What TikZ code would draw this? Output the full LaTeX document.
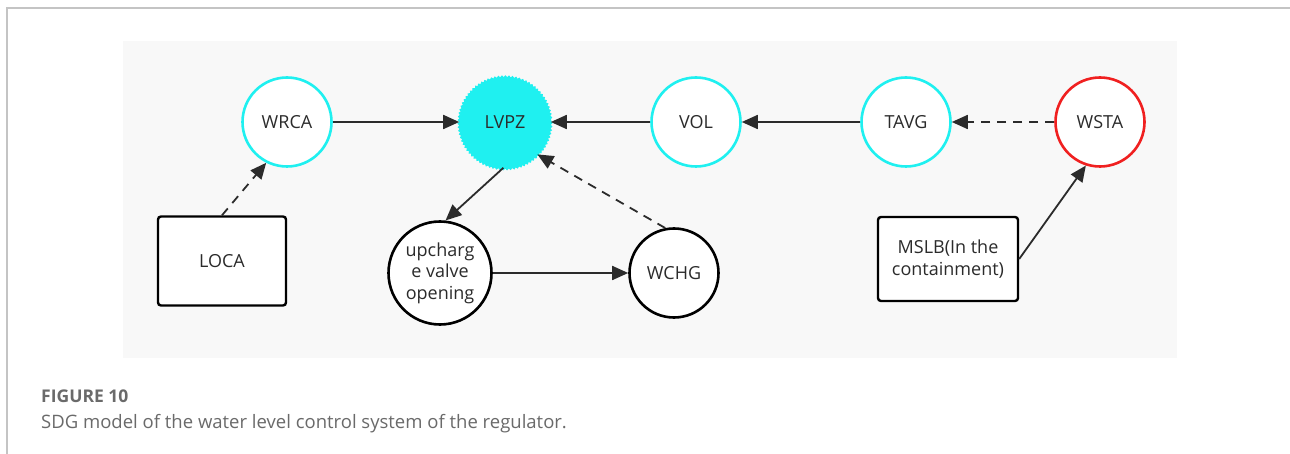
\documentclass[tikz,border=0pt]{standalone}
\usepackage{fontspec}
\setmainfont{Open Sans}
\usepackage{tikz}
\usetikzlibrary{shapes,arrows.meta,decorations.pathmorphing}
\usepackage{xcolor}
\definecolor{panelgray}{HTML}{F8F8F8}
\definecolor{framegray}{HTML}{C4C4C4}
\definecolor{inkgray}{HTML}{2B2B2B}
\definecolor{capgray}{HTML}{6A6A6A}
\definecolor{sigcyan}{HTML}{1FF0F0}
\definecolor{sigred}{HTML}{F02020}

\begin{document}
\begin{tikzpicture}[x=1pt,y=-1pt]
	\tikzstyle{var}=[draw=sigcyan,circle,line width=2.6pt,fill=white,text=inkgray,minimum size=89pt,inner sep=0pt,font=\fontsize{18}{21}\selectfont]
	\tikzstyle{event}=[draw=black,rectangle,rounded corners=3pt,line width=2.4pt,fill=white,text=inkgray,text centered,font=\fontsize{18}{22}\selectfont]
	\tikzstyle{edge}=[draw=inkgray,line width=1.8pt,-{Triangle[length=16pt,width=14pt]}]
	\tikzstyle{maybe}=[edge,dash pattern=on 9pt off 7pt]

	\useasboundingbox (0,0) rectangle (1290,454);
	\fill[white] (0,0) rectangle (1290,454);
	\draw[framegray,line width=1.5pt] (7,454) -- (7,8) -- (1290,8);
	\fill[panelgray] (123,41) rectangle (1177,358);

	% top row
	\node[var] (wrca) at (287,122) {WRCA};
	\draw[sigcyan,fill=sigcyan,line width=1pt,decorate,decoration={snake,segment length=3.5pt,amplitude=0.9pt}] (505,122) circle (46);
	\node[var,draw=none,fill=none] (lvpz) at (505,122) {LVPZ};
	\node[var] (vol) at (696,122) {VOL};
	\node[var] (tavg) at (906,122) {TAVG};
	\node[var,draw=sigred] (wsta) at (1100,122) {WSTA};

	% bottom row
	\node[event,minimum width=128pt,minimum height=89pt] (loca) at (222,261) {LOCA};
	\node[var,draw=black,minimum size=103pt,font=\fontsize{18}{21.5}\selectfont,align=center] (up) at (440,273) {upcharg\\e valve\\opening};
	\node[var,draw=black] (wchg) at (674,273) {WCHG};
	\node[event,minimum width=140pt,minimum height=84pt,align=center] (mslb) at (948,259) {MSLB(In the\\containment)};

	\draw[edge] (wrca) -- (lvpz);
	\draw[edge] (vol) -- (lvpz);
	\draw[edge] (tavg) -- (vol);
	\draw[maybe] (wsta) -- (tavg);
	\draw[maybe] (loca.north) -- (wrca.243);
	\draw[edge] (lvpz.268) -- (up.84);
	\draw[maybe] (wchg.101) -- (lvpz.-45);
	\draw[edge] (up) -- (wchg);
	\draw[edge] (mslb.east) -- (wsta.252);

	\node[anchor=base west,inner sep=0pt,text=capgray,font=\fontsize{17.5}{20}\selectfont\bfseries] (fig) at (41,402) {FIGURE 10};
	\node[anchor=base west,inner sep=0pt,text=capgray,font=\fontsize{18.5}{22}\selectfont] (cap) at (41,428) {SDG model of the water level control system of the regulator.};
\end{tikzpicture}
\end{document}
